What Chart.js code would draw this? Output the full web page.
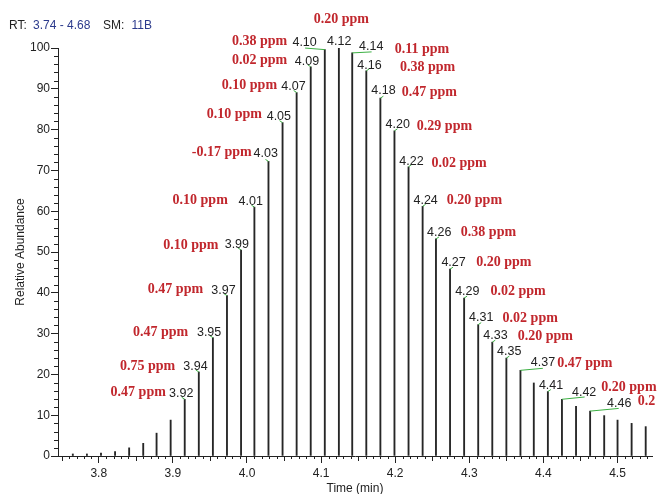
<!DOCTYPE html>
<html lang="en">
<head>
<meta charset="UTF-8">
<title>Chromatogram</title>
<script src="https://cdn.jsdelivr.net/npm/chart.js@4"></script>
<style>
  body { margin: 0; background: #fff; }
  canvas { display: block; }
</style>
</head>
<body>
<canvas id="chrom" width="660" height="494"></canvas>
<script>
// scan retention times (min) and relative abundance of each scan
const scanTimes = [3.765, 3.784, 3.803, 3.822, 3.841, 3.860, 3.878, 3.897, 3.916, 3.935,
                   3.954, 3.973, 3.992, 4.010, 4.029, 4.048, 4.067, 4.086, 4.105, 4.124,
                   4.142, 4.161, 4.180, 4.199, 4.218, 4.237, 4.255, 4.274, 4.293, 4.312,
                   4.331, 4.350, 4.369, 4.387, 4.406, 4.425, 4.444, 4.463, 4.482, 4.500,
                   4.519, 4.538];
const abundance = [0.5, 0.5, 0.7, 1.1, 2.0, 3.1, 5.6, 8.8, 13.9, 20.6,
                   29.0, 39.3, 50.5, 61.0, 72.2, 81.7, 89.1, 95.4, 99.6, 100,
                   98.8, 94.4, 87.7, 79.7, 70.9, 61.2, 53.2, 45.8, 38.7, 32.2,
                   27.9, 24.0, 21.0, 17.9, 15.8, 13.9, 12.2, 11.0, 9.9, 8.8,
                   8.0, 7.2];

const xTickValues = [3.8, 3.9, 4.0, 4.1, 4.2, 4.3, 4.4, 4.5];

// annotated scans: index into scanTimes, RT label, mass error label
const labelScan = [8, 9, 10, 11, 12, 13, 14, 15, 16, 17, 18, 19, 20, 21,
                   22, 23, 24, 25, 26, 27, 28, 29, 30, 31, 32, 34, 35, 37];
const rtText = ['3.92', '3.94', '3.95', '3.97', '3.99', '4.01', '4.03', '4.05', '4.07', '4.09',
                '4.10', '4.12', '4.14', '4.16', '4.18', '4.20', '4.22', '4.24', '4.26', '4.27',
                '4.29', '4.31', '4.33', '4.35', '4.37', '4.41', '4.42', '4.46'];
const ppmText = ['0.47 ppm', '0.75 ppm', '0.47 ppm', '0.47 ppm', '0.10 ppm', '0.10 ppm', '-0.17 ppm',
                 '0.10 ppm', '0.10 ppm', '0.02 ppm', '0.38 ppm', '0.20 ppm', '0.11 ppm', '0.38 ppm',
                 '0.47 ppm', '0.29 ppm', '0.02 ppm', '0.20 ppm', '0.38 ppm', '0.20 ppm', '0.02 ppm',
                 '0.02 ppm', '0.20 ppm', '', '0.47 ppm', '', '0.20 ppm', '0.2'];

// where the labels sit, in px from the top of their stick
const rtOffset = [[-3.5, -6], [-3.3, -5.3], [-3.8, -5.3], [-3.5, -5.3], [-4.2, -5], [-3.7, -6],
                  [-2.7, -7.6], [-3.7, -6], [-3.2, -6.3], [-3.7, -5.7], [-20.2, -6.6], [0.4, -6.6],
                  [19, -6], [3.2, -5], [3.1, -7.3], [3.2, -6], [2.9, -5], [3, -5.7], [3.2, -6],
                  [3.5, -6.6], [3.2, -6.6], [3, -7.3], [3.2, -7], [2.8, -6.6], [22.5, -7.4],
                  [3.2, -6.3], [22.2, -6.7], [29.1, -7.7]];
const ppmOffset = [[-46.5, -7.3], [-51.3, -6], [-52.3, -5.3], [-51.5, -6.7], [-50.2, -5], [-54.2, -6.7],
                   [-46.7, -9.3], [-48.2, -8.4], [-47.2, -7], [-51.2, -6.4], [-65.2, -8.6], [2.5, -29],
                   [69.7, -3.7], [61.2, -3.3], [49, -6], [50, -4.3], [50.5, -3.4], [51.8, -6.4],
                   [52.5, -7], [53.7, -6.6], [54, -6.6], [52, -6.7], [53, -6], null, [64.4, -7.4],
                   null, [67, -11.7], [47.6, -9.4]];
const linkOffset = [[-3, -2], [-3, -2], [-3, -2], [-3, -2], [-3, -2], [-3, -2], [-3, -2], [-3, -2],
                    [-3, -2], [-3, -2], [-19.7, -1.6], null, [19.4, -1], [3, -2], [3, -2], [3, -2],
                    [3, -2], [3, -2], [3, -2], [3, -2], [3, -2], [3, -2], [3, -2], [3, -2],
                    [22.4, -2], [3, -2], [22.7, -2.3], [28.6, -2.7]];

const SANS = '"Liberation Sans", Arial, sans-serif';
const SERIF = '"Liberation Serif", "Times New Roman", serif';

const annotate = {
  id: 'annotate',
  afterDraw(chart) {
    const ctx = chart.ctx;
    const xs = chart.scales.x, ys = chart.scales.y;
    const area = chart.chartArea;
    ctx.save();

    // minor ticks
    ctx.strokeStyle = '#222';
    ctx.lineWidth = 1;
    ctx.beginPath();
    for (let k = 375; k <= 454; k++) {
      if (k % 10 === 0) continue;
      const px = Math.round(xs.getPixelForValue(k / 100)) + 0.5;
      const len = k % 5 === 0 ? 5 : 3;
      ctx.moveTo(px, area.bottom);
      ctx.lineTo(px, area.bottom + len);
    }
    for (let v = 2; v < 100; v += 2) {
      if (v % 10 === 0) continue;
      const py = Math.round(ys.getPixelForValue(v)) + 0.5;
      ctx.moveTo(area.left, py);
      ctx.lineTo(area.left - 4, py);
    }
    ctx.stroke();

    // header
    ctx.font = '12px ' + SANS;
    ctx.textBaseline = 'middle';
    ctx.textAlign = 'left';
    ctx.fillStyle = '#222';
    ctx.fillText('RT:', 9, 26);
    ctx.fillText('SM:', 103, 26);
    ctx.fillStyle = '#2b3a8c';
    ctx.fillText('3.74 - 4.68', 33, 26);
    ctx.fillText('11B', 131.5, 26);

    // peak labels
    labelScan.forEach((idx, k) => {
      const sx = xs.getPixelForValue(scanTimes[idx]);
      const sy = ys.getPixelForValue(abundance[idx]);
      const lo = linkOffset[k];
      if (lo) {
        ctx.strokeStyle = '#3cb043';
        ctx.lineWidth = 1;
        ctx.beginPath();
        ctx.moveTo(sx, sy);
        ctx.lineTo(sx + lo[0], sy + lo[1]);
        ctx.stroke();
      }
      ctx.textAlign = 'center';
      ctx.font = '12.5px ' + SANS;
      ctx.fillStyle = '#222';
      ctx.fillText(rtText[k], sx + rtOffset[k][0], sy + rtOffset[k][1]);
      const po = ppmOffset[k];
      if (po && ppmText[k]) {
        ctx.font = 'bold 14px ' + SERIF;
        ctx.fillStyle = '#c1272d';
        if (ppmText[k] === '0.2') {
          ctx.textAlign = 'left';
        }
        ctx.fillText(ppmText[k], sx + po[0], sy + po[1]);
      }
    });
    ctx.restore();
  }
};

const ctx = document.getElementById('chrom').getContext('2d');
const chrom = new Chart(ctx, {
  type: 'bar',
  data: {
    datasets: [{
      data: scanTimes.map((t, i) => ({ x: t, y: abundance[i] })),
      backgroundColor: '#262626',
      borderWidth: 0,
      barThickness: 1.2
    }]
  },
  options: {
    responsive: false,
    animation: false,
    layout: { padding: { top: 48, right: 8, left: 0, bottom: 0 } },
    plugins: { legend: { display: false }, tooltip: { enabled: false } },
    scales: {
      x: {
        type: 'linear',
        min: 3.745,
        max: 4.5465,
        offset: false,
        afterBuildTicks: s => { s.ticks = xTickValues.map(v => ({ value: v })); },
        afterFit: s => { s.height = 38; },
        grid: { drawOnChartArea: false, offset: false, tickLength: 7, color: '#222' },
        border: { color: '#222' },
        ticks: {
          callback: v => v.toFixed(1),
          font: { family: SANS, size: 12 },
          color: '#222',
          padding: 3,
          maxRotation: 0,
          autoSkip: false
        },
        title: { display: true, text: 'Time (min)', font: { family: SANS, size: 12 }, color: '#222', padding: { top: 0, bottom: -2 } }
      },
      y: {
        min: 0,
        max: 100,
        afterFit: s => { s.width = 58; },
        grid: { drawOnChartArea: false, tickLength: 7, color: '#222' },
        border: { color: '#222' },
        ticks: { stepSize: 10, font: { family: SANS, size: 12 }, color: '#222', padding: 1 },
        title: { display: true, text: 'Relative Abundance', font: { family: SANS, size: 12 }, color: '#222', padding: { top: 13.5, bottom: 0 } }
      }
    }
  },
  plugins: [annotate]
});
</script>
</body>
</html>
